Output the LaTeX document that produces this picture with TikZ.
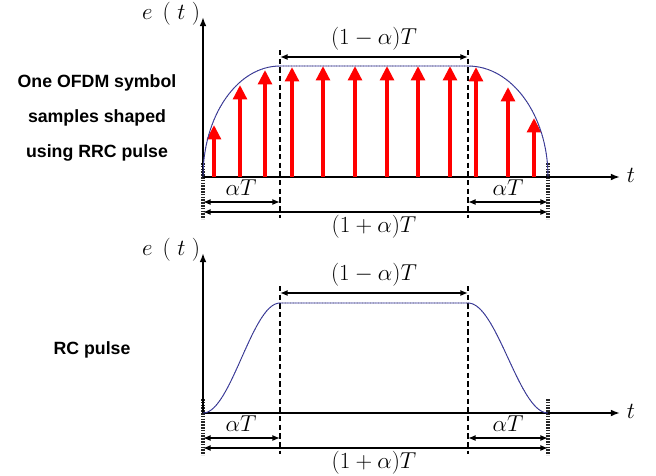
\documentclass[tikz,border=0pt]{standalone}
\usepackage{fontspec}
\newfontfamily\sidefont{Liberation Sans}
\usetikzlibrary{arrows.meta}
\definecolor{pulseblue}{HTML}{3B3BA8}
\tikzset{
  axis/.style={line width=1.6pt,-{Latex[length=2.4mm,width=1.8mm]}},
  sample/.style={red,line width=3pt,-{Triangle[length=3.8mm,width=3.6mm]}},
  pulse/.style={pulseblue,line width=0.7pt,
    postaction={draw=black!75,line width=0.5pt,dash pattern=on 0.4pt off 1.6pt}},
  guide/.style={line width=1.4pt,dash pattern=on 4pt off 2.5pt},
  edge/.style={line width=3pt,dash pattern=on 1.2pt off 0.9pt,draw=black!85},
  dim/.style={line width=1.2pt,{Latex[length=2mm,width=1.6mm]}-{Latex[length=2mm,width=1.6mm]}},
  mathlbl/.style={font=\fontsize{16}{18}\selectfont,inner sep=1pt},
  sidetext/.style={font=\sidefont\bfseries\fontsize{13.3}{26}\selectfont,align=center}
}
\begin{document}
\begin{tikzpicture}[x=0.75pt,y=-0.75pt]
\useasboundingbox (0,0) rectangle (656,475);
% frame shared by both panels
\foreach \dy/\p in {0/1,236/2}{
  \begin{scope}[shift={(0,\dy)}]
    \draw[guide] (280,50) -- (280,218);
    \draw[guide] (468,50) -- (468,218);
    \draw[edge] (203,163) -- (203,219);
    \draw[edge] (548,163) -- (548,219);
    \coordinate (o\p) at (203,177);
    \draw[axis] (o\p) -- (203,17);
    \draw[axis] (o\p) -- (620,177);
    \node[mathlbl] (e\p) at (171,14) {$e\;\,(\;t\;)$};
    \node[mathlbl] (t\p) at (631,175) {$t$};
    \draw[dim] (280,57) -- (468,57);
    \node[mathlbl] (w\p) at (374,39) {$(1-\alpha)T$};
    \draw[dim] (203,202) -- (280,202);
    \node[mathlbl] (a\p) at (241,188) {$\alpha T$};
    \draw[dim] (468,202) -- (548,202);
    \node[mathlbl] (b\p) at (508,188) {$\alpha T$};
    \draw[dim] (203,212) -- (548,212);
    \node[mathlbl] (s\p) at (374,227) {$(1+\alpha)T$};
  \end{scope}
}
% top: RRC shaped samples
\foreach \x/\y in {214/125,240/85,265/70,292/67,323/66,355/66,387/66,418/66,450/66,476/67,508/87,534/118}
  \draw[sample] (\x,177) -- (\x,\y);
\draw[pulse] (o1) arc[start angle=180,end angle=270,x radius=77,y radius=111]
  -- (468,66) arc[start angle=270,end angle=360,x radius=80,y radius=111];
\node[sidetext] (rrc) at (97,118) {One OFDM symbol\\samples shaped\\using RRC pulse};
% bottom: RC pulse
\draw[pulse] plot[domain=0:1,samples=40] ({203+77*\x},{413-55*(1-cos(180*\x))})
  -- (468,303) plot[domain=0:1,samples=40] ({468+80*\x},{303+55*(1-cos(180*\x))});
\node[sidetext] (rc) at (92,350) {RC pulse};
\end{tikzpicture}
\end{document}
